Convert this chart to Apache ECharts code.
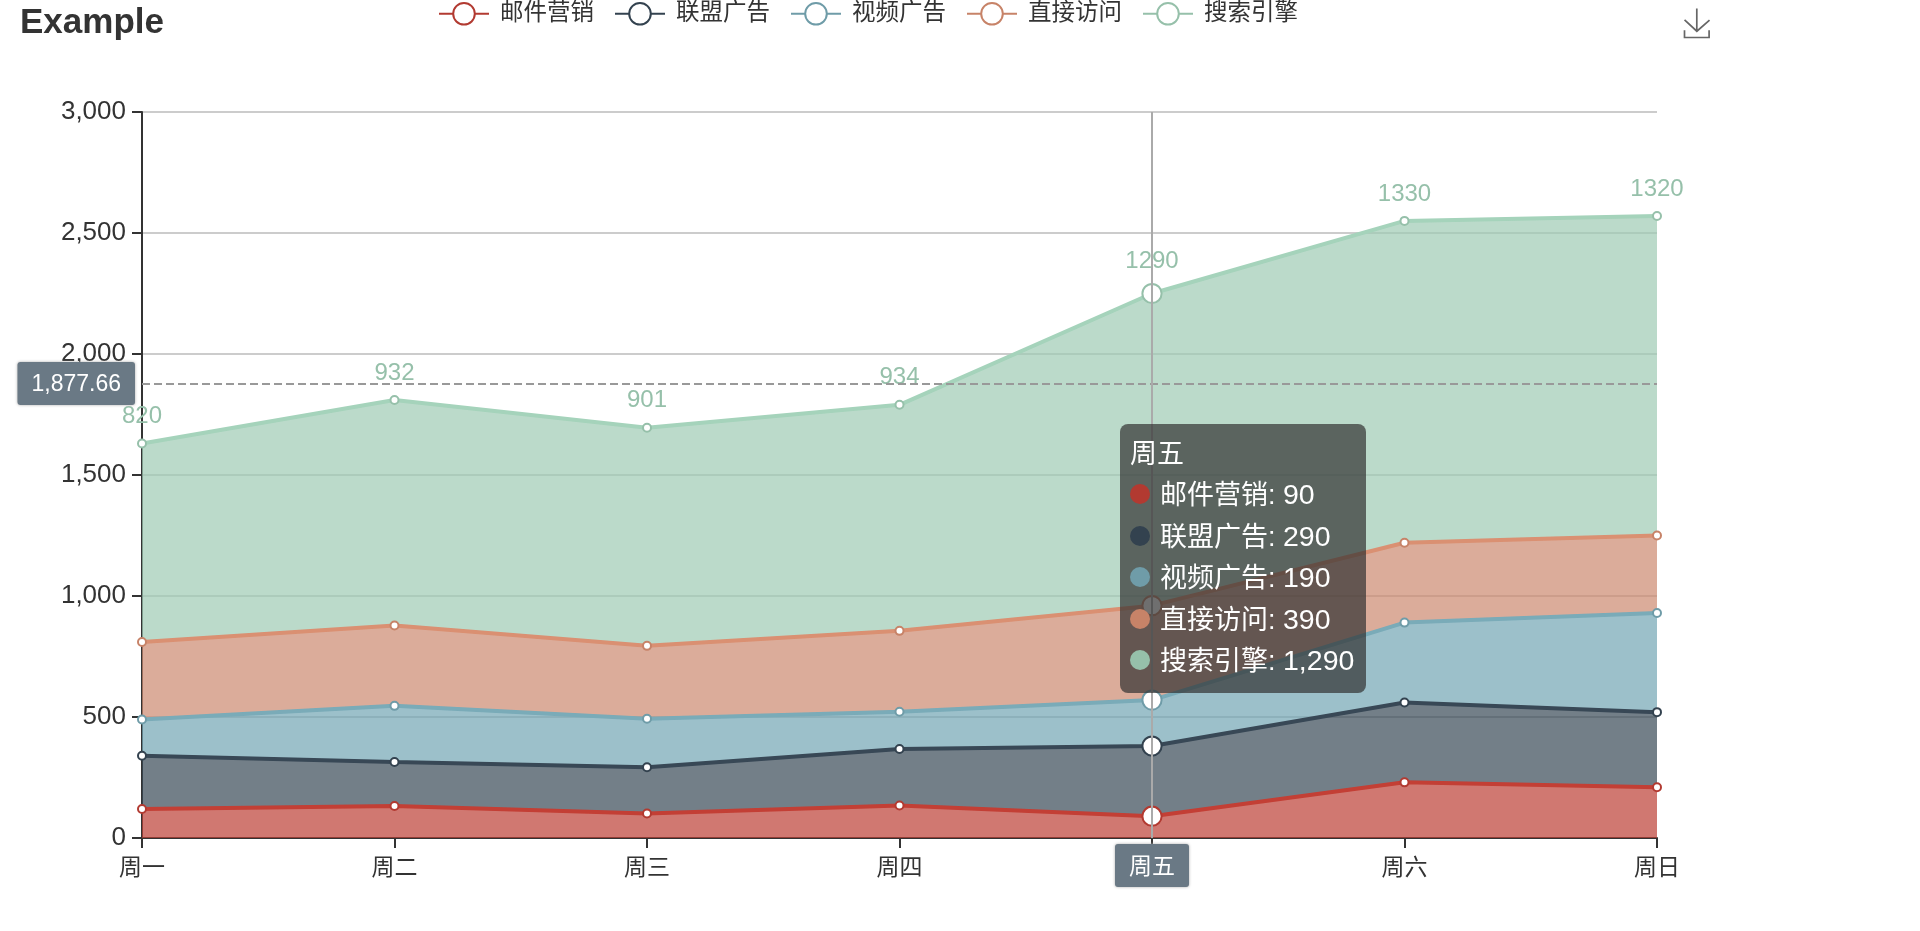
<!DOCTYPE html>
<html>
<head>
<meta charset="utf-8">
<style>
  html, body { margin: 0; padding: 0; background: #fff; overflow: hidden; }
  #myChart { width: 1920px; height: 931px; }
</style>
<script src="https://cdn.jsdelivr.net/npm/echarts@6/dist/echarts.min.js"></script>
</head>
<body>
<div id="myChart"></div>
<script>
const fontFamily = '"Liberation Sans", "Noto Sans CJK SC", sans-serif';

const days = ['周一', '周二', '周三', '周四', '周五', '周六', '周日'];
const seriesNames = ['邮件营销', '联盟广告', '视频广告', '直接访问', '搜索引擎'];
const colors = ['#b23a31', '#33424f', '#6f9ca8', '#c78368', '#96c0aa'];
const areaColors = ['#ab3a31', '#33424f', '#6896a3', '#ba7d65', '#90b9a3'];

const mail = [120, 132, 101, 134, 90, 230, 210];
const union = [220, 182, 191, 234, 290, 330, 310];
const video = [150, 232, 201, 154, 190, 330, 410];
const direct = [320, 332, 301, 334, 390, 330, 320];
const search = [820, 932, 901, 934, 1290, 1330, 1320];
const seriesValues = [mail, union, video, direct, search];

// where the pointer sits in the picture
const pointerDay = 4;
const pointerValue = 1877.66;

const series = seriesNames.map((name, i) => ({
  name: name,
  type: 'line',
  stack: 'total',
  data: seriesValues[i],
  symbol: 'emptyCircle',
  symbolSize: 8,
  showAllSymbol: true,
  lineStyle: { width: 4 },
  itemStyle: { color: colors[i], borderWidth: 2 },
  areaStyle: { color: areaColors[i], opacity: 0.7 },
  emphasis: { scale: 2.4, focus: 'none' },
  label: {
    show: i === 4,
    position: 'top',
    distance: 10,
    color: colors[i],
    fontSize: 24,
    fontFamily: fontFamily
  }
}));

const option = {
  animation: false,
  color: colors,
  textStyle: { fontFamily: fontFamily },
  title: {
    text: 'Example',
    left: 20,
    top: 6,
    padding: 0,
    textStyle: { fontSize: 35, fontWeight: 'bold', color: '#333', fontFamily: fontFamily }
  },
  legend: {
    data: seriesNames,
    left: 438,
    top: 2,
    padding: 0,
    itemWidth: 50,
    itemHeight: 27,
    itemGap: 20,
    textStyle: { fontSize: 23.5, color: '#333', padding: [3, 0, 0, 6], fontFamily: fontFamily }
  },
  toolbox: {
    left: 1682,
    top: 6,
    padding: 0,
    itemSize: 29,
    feature: { saveAsImage: { title: '' } },
    iconStyle: { borderColor: '#666', borderWidth: 1.7 }
  },
  tooltip: {
    trigger: 'axis',
    transitionDuration: 0,
    backgroundColor: 'rgba(50,50,50,0.7)',
    borderWidth: 0,
    borderRadius: 8,
    padding: [10, 10],
    extraCssText: 'box-shadow:none;width:226px;height:249px;',
    textStyle: { color: '#fff', fontSize: 27, fontFamily: fontFamily },
    axisPointer: { type: 'cross' },
    position: function() {
      return [1120, 424];
    },
    formatter: function(params) {
      const rows = params.map(p => {
        const dot = `<span style="display:inline-block;width:20px;height:20px;border-radius:10px;margin-right:10px;background:${p.color}"></span>`;
        return `<div style="height:41.5px;line-height:41.5px;white-space:nowrap">${dot}${p.seriesName}: <span style="font-size:28.5px;line-height:20px">${p.value.toLocaleString('en-US')}</span></div>`;
      });
      return `<div style="height:41px;line-height:41px">${params[0].axisValue}</div>` + rows.join('');
    }
  },
  grid: { left: 142, right: 263, top: 112, bottom: 93 },
  xAxis: {
    type: 'category',
    boundaryGap: false,
    data: days,
    axisLine: { lineStyle: { color: '#333', width: 2 } },
    axisTick: { length: 10, lineStyle: { color: '#333', width: 2 } },
    axisLabel: { color: '#333', fontSize: 23, margin: 19, fontFamily: fontFamily },
    axisPointer: {
      lineStyle: { color: '#aaa', width: 2, type: 'solid' },
      label: {
        backgroundColor: '#6a7985',
        color: '#fff',
        fontSize: 23,
        padding: [12, 14, 8, 14],
        margin: 6,
        shadowBlur: 3,
        shadowColor: '#aaa',
        fontFamily: fontFamily
      }
    }
  },
  yAxis: {
    type: 'value',
    min: 0,
    max: 3000,
    interval: 500,
    axisLine: { show: true, lineStyle: { color: '#333', width: 2 } },
    axisTick: { show: true, length: 10, lineStyle: { color: '#333', width: 2 } },
    axisLabel: { color: '#333', fontSize: 26, margin: 16, padding: [4, 0, 0, 0], fontFamily: fontFamily },
    splitLine: { lineStyle: { color: '#ccc', width: 2 } },
    axisPointer: {
      lineStyle: { color: '#999', width: 2, type: 'dashed' },
      label: {
        backgroundColor: '#6a7985',
        color: '#fff',
        fontSize: 23,
        padding: [11, 14, 9, 14],
        margin: 7,
        precision: 2,
        shadowBlur: 3,
        shadowColor: '#aaa',
        fontFamily: fontFamily
      }
    }
  },
  series: series
};

const myChart = echarts.init(document.getElementById('myChart'));
myChart.setOption(option, true);

// hold the crosshair and tooltip open the way the picture shows them
const pos = myChart.convertToPixel({ gridIndex: 0 }, [pointerDay, pointerValue]);
myChart.dispatchAction({ type: 'showTip', x: pos[0], y: pos[1] });
myChart.getZr().handler.dispatch('mousemove', { zrX: pos[0], zrY: pos[1] });
</script>
</body>
</html>
